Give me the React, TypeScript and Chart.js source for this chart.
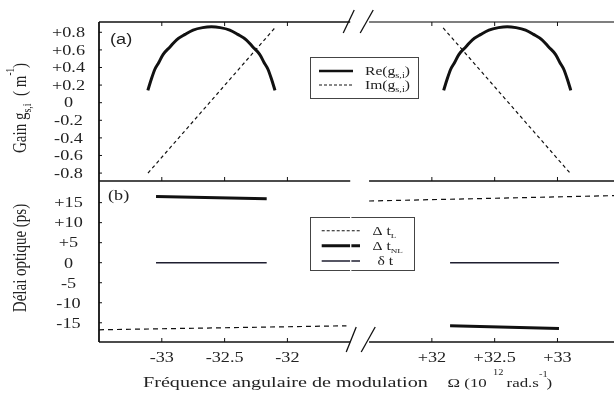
import React, { useEffect, useRef } from 'react';
import { Chart, registerables } from 'chart.js';

Chart.register(...registerables);

// ---------------- data ----------------
const X_TICKS_LEFT = [-33, -32.5, -32];
const X_TICKS_RIGHT = [32, 32.5, 33];
const X_TICK_LABELS_LEFT = ['-33', '-32.5', '-32'];
const X_TICK_LABELS_RIGHT = ['+32', '+32.5', '+33'];
const LEFT_SEGMENT = [-33.5, -31.5];
const RIGHT_SEGMENT = [31.5, 33.45];
const BREAK_GAP = 0.15;

const Y_TICKS_A = [0.8, 0.6, 0.4, 0.2, 0, -0.2, -0.4, -0.6, -0.8];
const Y_TICK_LABELS_A = ['+0.8', '+0.6', '+0.4', '+0.2', '0', '-0.2', '-0.4', '-0.6', '-0.8'];
const Y_RANGE_A = [-0.89, 0.917];
const Y_TICKS_B = [15, 10, 5, 0, -5, -10, -15];
const Y_TICK_LABELS_B = ['+15', '+10', '+5', '0', '-5', '-10', '-15'];
const Y_RANGE_B = [-19.8, 20.4];

// panel (a): Re(g) arches
const RE_LEFT_X = [-33.111, -33.085, -33.055, -33.025, -32.989, -32.935, -32.882, -32.815, -32.751, -32.675, -32.605, -32.535, -32.459, -32.395, -32.328, -32.275, -32.221, -32.185, -32.155, -32.125, -32.099];
const RE_LEFT_Y = [0.14, 0.26, 0.38, 0.454, 0.55, 0.634, 0.715, 0.776, 0.825, 0.853, 0.862, 0.853, 0.825, 0.776, 0.715, 0.634, 0.55, 0.454, 0.38, 0.26, 0.14];
const RE_RIGHT_X = [32.094, 32.12, 32.15, 32.18, 32.216, 32.27, 32.323, 32.39, 32.454, 32.53, 32.6, 32.67, 32.746, 32.81, 32.877, 32.93, 32.984, 33.02, 33.05, 33.08, 33.106];
const RE_RIGHT_Y = [0.14, 0.26, 0.38, 0.454, 0.55, 0.634, 0.715, 0.776, 0.825, 0.853, 0.864, 0.853, 0.825, 0.776, 0.715, 0.634, 0.55, 0.454, 0.38, 0.26, 0.14];
// panel (a): Im(g) lines
const IM_LEFT_X = [-33.11, -32.1];
const IM_LEFT_Y = [-0.8, 0.85];
const IM_RIGHT_X = [32.09, 33.1];
const IM_RIGHT_Y = [0.85, -0.8];

// panel (b)
const DTL_LEFT_X = [-33.5, -31.53];
const DTL_LEFT_Y = [-16.75, -15.75];
const DTL_RIGHT_X = [31.5, 33.45];
const DTL_RIGHT_Y = [15.4, 16.75];
const DTNL_LEFT_X = [-33.046, -32.165];
const DTNL_LEFT_Y = [16.5, 15.95];
const DTNL_RIGHT_X = [32.145, 33.012];
const DTNL_RIGHT_Y = [-15.75, -16.4];
const DT_LEFT_X = [-33.046, -32.165];
const DT_LEFT_Y = [0, 0];
const DT_RIGHT_X = [32.145, 33.012];
const DT_RIGHT_Y = [0, 0];

// ---------------- helpers ----------------
const W = 614;
const H = 398;
const SERIF = '"Liberation Serif", "Times New Roman", serif';
const SANS = '"Liberation Sans", Arial, sans-serif';
const SX = 1.3;
const INK = '#111';
const TEXT = '#222';

const SPAN = (LEFT_SEGMENT[1] - LEFT_SEGMENT[0]) + BREAK_GAP + (RIGHT_SEGMENT[1] - RIGHT_SEGMENT[0]);

function series(xs: number[], ys: number[]) {
  return xs.map((x, i) => ({ x, y: ys[i] }));
}

type Run = { t: string; size: number; dy?: number; dx?: number; family?: string };

function drawRich(ctx: CanvasRenderingContext2D, runs: Run[], x: number, y: number,
  opts: { align?: 'left' | 'center' | 'right'; rotate?: boolean; sx?: number; color?: string } = {}) {
  const sx = opts.sx ?? SX;
  ctx.save();
  ctx.translate(x, y);
  if (opts.rotate) { ctx.rotate(-Math.PI / 2); ctx.scale(1, sx); } else { ctx.scale(sx, 1); }
  ctx.fillStyle = opts.color ?? TEXT;
  ctx.textBaseline = 'alphabetic';
  ctx.textAlign = 'left';
  const widths = runs.map(r => { ctx.font = `${r.size}px ${r.family ?? SERIF}`; return ctx.measureText(r.t).width; });
  const total = widths.reduce((s, w, i) => s + w + (runs[i].dx ?? 0), 0);
  let cx = opts.align === 'center' ? -total / 2 : opts.align === 'right' ? -total : 0;
  runs.forEach((r, i) => {
    cx += r.dx ?? 0;
    ctx.font = `${r.size}px ${r.family ?? SERIF}`;
    ctx.fillText(r.t, cx, r.dy ?? 0);
    cx += widths[i];
  });
  ctx.restore();
}

function line(ctx: CanvasRenderingContext2D, x1: number, y1: number, x2: number, y2: number, lw: number, color = INK, dash: number[] = []) {
  ctx.save();
  ctx.beginPath();
  ctx.setLineDash(dash);
  ctx.lineWidth = lw;
  ctx.strokeStyle = color;
  ctx.moveTo(x1, y1);
  ctx.lineTo(x2, y2);
  ctx.stroke();
  ctx.restore();
}

function xScales() {
  return {
    xL: { type: 'linear', axis: 'x', display: false, min: LEFT_SEGMENT[0], max: LEFT_SEGMENT[0] + SPAN },
    xR: { type: 'linear', axis: 'x', display: false, min: RIGHT_SEGMENT[1] - SPAN, max: RIGHT_SEGMENT[1] },
  };
}

function ds(data: { x: number; y: number }[], xAxisID: string, style: any) {
  return { data, xAxisID, yAxisID: 'y', pointRadius: 0, fill: false, showLine: true, borderColor: INK, ...style };
}

function frame(chart: any, ticks: number[], tickLabels: string[], hTop: 'down' | 'none') {
  const ctx: CanvasRenderingContext2D = chart.ctx;
  const { left, right, top, bottom } = chart.chartArea;
  const xL = chart.scales.xL, xR = chart.scales.xR, y = chart.scales.y;
  const lEnd = xL.getPixelForValue(LEFT_SEGMENT[1]);
  const rStart = xR.getPixelForValue(RIGHT_SEGMENT[0]);
  line(ctx, left, top, left, bottom, 1.8);
  const ys: number[] = [];
  if (hTop === 'down') ys.push(top);
  ys.push(bottom);
  ys.forEach(yy => {
    line(ctx, left, yy, lEnd, yy, 1.6);
    line(ctx, rStart, yy, right, yy, 1.6, yy === top ? '#555' : INK);
  });
  const xs = [
    ...X_TICKS_LEFT.map(v => xL.getPixelForValue(v)),
    ...X_TICKS_RIGHT.map(v => xR.getPixelForValue(v)),
  ];
  xs.forEach(px => {
    if (hTop === 'down') line(ctx, px, top, px, top + 4, 1);
    line(ctx, px, bottom, px, bottom - 4, 1);
  });
  ticks.forEach((v, i) => {
    const py = y.getPixelForValue(v);
    line(ctx, left, py, left + 3, py, 1);
    drawRich(ctx, [{ t: tickLabels[i], size: 14 }], 68.5, py + 4.8, { align: 'center' });
  });
  return { lEnd, rStart };
}

// ---------------- plugins ----------------
const panelA = {
  id: 'panelA',
  afterDraw(chart: any) {
    const ctx: CanvasRenderingContext2D = chart.ctx;
    const { lEnd } = frame(chart, Y_TICKS_A, Y_TICK_LABELS_A, 'down');
    line(ctx, lEnd - 7, 33, lEnd + 4, 10, 1.3);
    line(ctx, lEnd + 10, 33, lEnd + 23, 10, 1.3);
    drawRich(ctx, [{ t: '(a)', size: 14, family: SANS }], 110, 44);
    ctx.save();
    ctx.lineWidth = 1;
    ctx.strokeStyle = '#444';
    ctx.strokeRect(310.5, 57.5, 108, 41);
    ctx.restore();
    line(ctx, 319, 71, 353, 71, 2.5);
    line(ctx, 319, 85, 353, 85, 1, INK, [3, 2]);
    drawRich(ctx, [{ t: 'Re(g', size: 12 }, { t: 's,i', size: 8, dy: 3 }, { t: ')', size: 12 }], 365, 74.5);
    drawRich(ctx, [{ t: 'Im(g', size: 12 }, { t: 's,i', size: 8, dy: 3 }, { t: ')', size: 12 }], 365, 89);
    drawRich(ctx, [
      { t: 'Gain g', size: 15 },
      { t: 's,i', size: 10, dy: 4 },
      { t: '  (', size: 15 },
      { t: ' m', size: 15 },
      { t: '-1', size: 9, dy: -9 },
      { t: ')', size: 15 },
    ], 26, 153, { rotate: true });
  },
};

const panelB = {
  id: 'panelB',
  afterDraw(chart: any) {
    const ctx: CanvasRenderingContext2D = chart.ctx;
    const { lEnd } = frame(chart, Y_TICKS_B, Y_TICK_LABELS_B, 'none');
    const xL = chart.scales.xL, xR = chart.scales.xR;
    line(ctx, lEnd - 4, 352, lEnd + 6, 327, 1.3);
    line(ctx, lEnd + 11, 352, lEnd + 25, 327, 1.3);
    drawRich(ctx, [{ t: '(b)', size: 14 }], 108, 200);
    ctx.save();
    ctx.lineWidth = 1;
    ctx.strokeStyle = '#444';
    ctx.strokeRect(310.5, 217.5, 104, 53);
    ctx.restore();
    line(ctx, 321.7, 230.7, 360, 230.7, 1.1, INK, [3, 2]);
    line(ctx, 321.7, 245.7, 360, 245.7, 3);
    line(ctx, 321.7, 261, 360, 261, 1.4, '#1e1e30');
    line(ctx, lEnd + 0.5, 216, lEnd + 0.5, 272, 1.3, '#fff');
    drawRich(ctx, [{ t: 'Δ t', size: 12 }, { t: 'L', size: 7, dy: 3 }], 372.5, 234.5);
    drawRich(ctx, [{ t: 'Δ t', size: 12 }, { t: 'NL', size: 7, dy: 3 }], 372.5, 249.5);
    drawRich(ctx, [{ t: 'δ t', size: 12 }], 377.5, 265);
    drawRich(ctx, [{ t: 'Délai optique (ps)', size: 15 }], 25.5, 258, { rotate: true, align: 'center' });
    X_TICKS_LEFT.forEach((v, i) => drawRich(ctx, [{ t: X_TICK_LABELS_LEFT[i], size: 14 }], xL.getPixelForValue(v), 362, { align: 'center' }));
    X_TICKS_RIGHT.forEach((v, i) => drawRich(ctx, [{ t: X_TICK_LABELS_RIGHT[i], size: 14 }], xR.getPixelForValue(v), 362, { align: 'center' }));
    drawRich(ctx, [{ t: 'Fréquence angulaire de modulation', size: 15.5 }], 143, 387);
    drawRich(ctx, [{ t: 'Ω (10', size: 13 }], 447.5, 387);
    drawRich(ctx, [{ t: '12', size: 8 }], 493, 375);
    drawRich(ctx, [{ t: 'rad.s', size: 13 }], 506.5, 387);
    drawRich(ctx, [{ t: '-1', size: 8 }], 539, 377);
    drawRich(ctx, [{ t: ')', size: 13 }], 546.5, 387);
  },
};

function configA(): any {
  return {
    type: 'line',
    data: {
      datasets: [
        ds(series(RE_LEFT_X, RE_LEFT_Y), 'xL', { borderWidth: 3, cubicInterpolationMode: 'monotone' }),
        ds(series(RE_RIGHT_X, RE_RIGHT_Y), 'xR', { borderWidth: 3, cubicInterpolationMode: 'monotone' }),
        ds(series(IM_LEFT_X, IM_LEFT_Y), 'xL', { borderWidth: 1.2, borderDash: [3.5, 3], tension: 0 }),
        ds(series(IM_RIGHT_X, IM_RIGHT_Y), 'xR', { borderWidth: 1.2, borderDash: [3.5, 3], tension: 0 }),
      ],
    },
    options: {
      responsive: false,
      animation: false,
      devicePixelRatio: 1,
      layout: { padding: { left: 99, top: 22, right: 0, bottom: H - 181 } },
      scales: {
        ...xScales(),
        y: { type: 'linear', display: false, min: Y_RANGE_A[0], max: Y_RANGE_A[1] },
      },
      plugins: { legend: { display: false }, tooltip: { enabled: false } },
    },
    plugins: [panelA],
  };
}

function configB(): any {
  return {
    type: 'line',
    data: {
      datasets: [
        ds(series(DTL_LEFT_X, DTL_LEFT_Y), 'xL', { borderWidth: 1.2, borderDash: [5, 4], tension: 0 }),
        ds(series(DTL_RIGHT_X, DTL_RIGHT_Y), 'xR', { borderWidth: 1.2, borderDash: [5, 4], tension: 0 }),
        ds(series(DTNL_LEFT_X, DTNL_LEFT_Y), 'xL', { borderWidth: 3, tension: 0 }),
        ds(series(DTNL_RIGHT_X, DTNL_RIGHT_Y), 'xR', { borderWidth: 3, tension: 0 }),
        ds(series(DT_LEFT_X, DT_LEFT_Y), 'xL', { borderWidth: 1.4, borderColor: '#1e1e30', tension: 0 }),
        ds(series(DT_RIGHT_X, DT_RIGHT_Y), 'xR', { borderWidth: 1.4, borderColor: '#1e1e30', tension: 0 }),
      ],
    },
    options: {
      responsive: false,
      animation: false,
      devicePixelRatio: 1,
      layout: { padding: { left: 99, top: 181, right: 0, bottom: H - 342 } },
      scales: {
        ...xScales(),
        y: { type: 'linear', display: false, min: Y_RANGE_B[0], max: Y_RANGE_B[1] },
      },
      plugins: { legend: { display: false }, tooltip: { enabled: false } },
    },
    plugins: [panelB],
  };
}

export default function App() {
  const topRef = useRef<HTMLCanvasElement>(null);
  const botRef = useRef<HTMLCanvasElement>(null);
  useEffect(() => {
    const a = new Chart(topRef.current as HTMLCanvasElement, configA());
    const b = new Chart(botRef.current as HTMLCanvasElement, configB());
    return () => { a.destroy(); b.destroy(); };
  }, []);
  const cs: React.CSSProperties = { position: 'absolute', left: 0, top: 0, width: W, height: H, display: 'block' };
  return (
    <div style={{ position: 'fixed', left: 0, top: 0, width: W, height: H, background: '#fff' }}>
      <canvas ref={topRef} width={W} height={H} style={cs} />
      <canvas ref={botRef} width={W} height={H} style={cs} />
    </div>
  );
}
